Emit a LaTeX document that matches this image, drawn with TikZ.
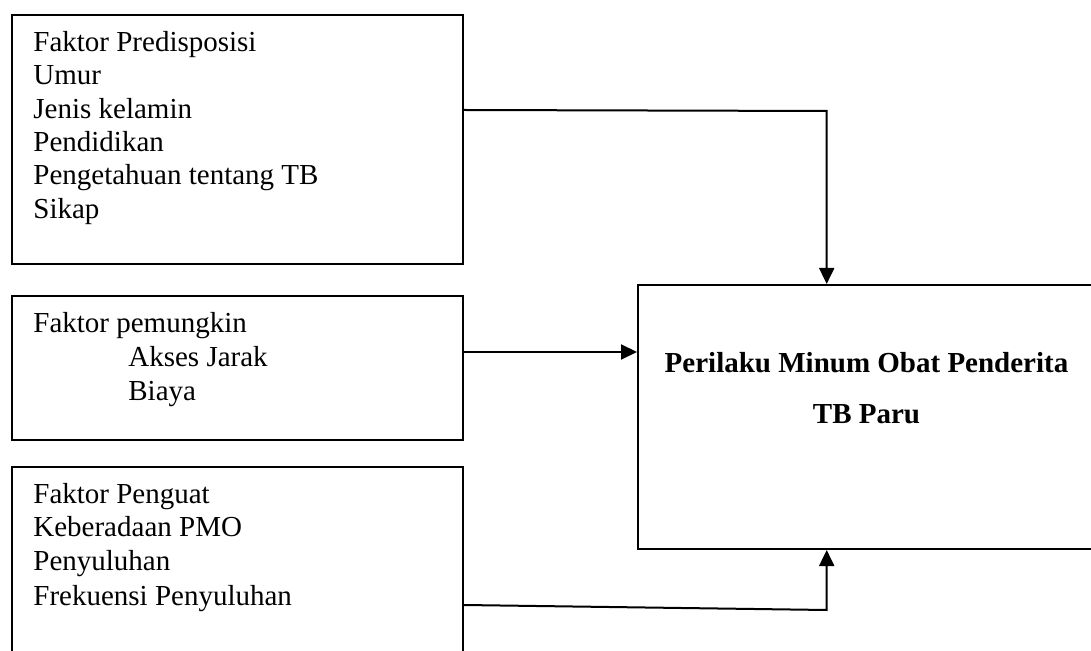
\documentclass[tikz,border=0pt]{standalone}
\usepackage{fontspec}
\setmainfont{Liberation Serif}
\usetikzlibrary{arrows.meta}
\tikzset{
  box/.style={draw=black, line width=1pt, rectangle, inner sep=0pt},
  txt/.style={anchor=base west, inner sep=0pt, font=\fontsize{14.5pt}{17pt}\selectfont},
  ttl/.style={anchor=base, inner sep=0pt, font=\fontsize{14.5pt}{17pt}\selectfont\bfseries},
  conn/.style={draw=black, line width=1pt, -{Triangle[length=8pt,width=7.5pt]}}
}
\begin{document}
\begin{tikzpicture}[x=0.5pt,y=-0.5pt]
\useasboundingbox (0,0) rectangle (1091,651);
\clip (0,0) rectangle (1091,651);
\fill[white] (0,0) rectangle (1091,651);
% boxes
\node[box, minimum width=225.5pt, minimum height=124.5pt] (box1) at (237.5,139.5) {};
\node[box, minimum width=225.5pt, minimum height=72pt] (box2) at (237.5,368) {};
\node[box, minimum width=225.5pt, minimum height=116.5pt] (box3) at (237.5,583.5) {};
\node[box, minimum width=228pt, minimum height=132pt] (hasil) at (866,417) {};
% texts box 1
\node[txt] (a1) at (33,51.7) {Faktor Predisposisi};
\node[txt] (a2) at (33,85) {Umur};
\node[txt] (a3) at (33,118.3) {Jenis kelamin};
\node[txt] (a4) at (33,151.7) {Pendidikan};
\node[txt] (a5) at (33,185) {Pengetahuan tentang TB};
\node[txt] (a6) at (33,218.3) {Sikap};
% texts box 2
\node[txt] (b1) at (33,333) {Faktor pemungkin};
\node[txt] (b2) at (128,367) {Akses Jarak};
\node[txt] (b3) at (128,401) {Biaya};
% texts box 3
\node[txt] (c1) at (33,503.3) {Faktor Penguat};
\node[txt] (c2) at (33,536.7) {Keberadaan PMO};
\node[txt] (c3) at (33,570) {Penyuluhan};
\node[txt] (c4) at (33,605) {Frekuensi Penyuluhan};
% title
\node[ttl] (h1) at (866.5,373) {Perilaku Minum Obat Penderita};
\node[ttl] (h2) at (866.5,424) {TB Paru};
% connectors
\coordinate (k1) at (826.7,111);
\coordinate (k3) at (826.7,610);
\draw[conn] (box1.east |- 0,110) -- (k1) -- (hasil.north -| k1);
\draw[conn] (box2.east |- 0,352) -- (hasil.west |- 0,352);
\draw[conn] (box3.east |- 0,605) -- (k3) -- (hasil.south -| k3);
\end{tikzpicture}
\end{document}
